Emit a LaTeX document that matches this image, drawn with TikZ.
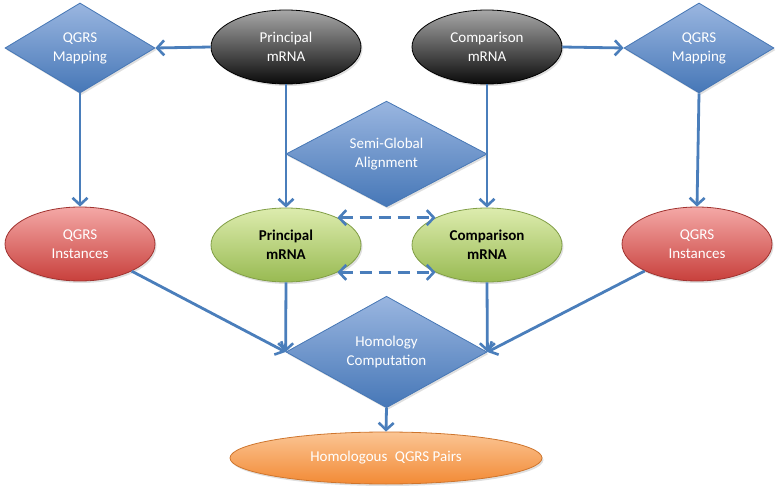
\documentclass[tikz,border=0pt]{standalone}
\usepackage{fontspec}
\setmainfont{Carlito}
\usetikzlibrary{shapes.geometric,arrows.meta,shadows}
\definecolor{arr}{HTML}{4A7EBB}
\definecolor{dtop}{HTML}{9AB6E0}
\definecolor{dbot}{HTML}{4677B7}
\definecolor{dline}{HTML}{4677B5}
\definecolor{ktop}{HTML}{A8A8A8}
\definecolor{kbot}{HTML}{0A0A0A}
\definecolor{rtop}{HTML}{F4A8A6}
\definecolor{rbot}{HTML}{C8403C}
\definecolor{gtop}{HTML}{DDECAE}
\definecolor{gbot}{HTML}{98BA52}
\definecolor{otop}{HTML}{FBC594}
\definecolor{obot}{HTML}{F28A35}
\tikzset{
  lbl/.style={font=\fontsize{15}{19}\selectfont, align=center},
  dia/.style={diamond, lbl, text=white, inner sep=0pt, top color=dtop, bottom color=dbot, draw=dline, line width=0.8pt, drop shadow={opacity=0.25,shadow xshift=1.5pt,shadow yshift=-2pt}},
  ell/.style={ellipse, lbl, inner sep=0pt, minimum width=150pt, minimum height=74pt, line width=0.8pt, drop shadow={opacity=0.25,shadow xshift=1.5pt,shadow yshift=-2pt}},
  blk/.style={ell, text=white, top color=ktop, bottom color=kbot, draw=black},
  red/.style={ell, text=white, top color=rtop, bottom color=rbot, draw=rbot!80!black},
  grn/.style={ell, text=black, font=\fontsize{15}{19}\selectfont\bfseries, top color=gtop, bottom color=gbot, draw=gbot!85!black},
  org/.style={ell, text=white, top color=otop, bottom color=obot, draw=obot!85!black, minimum width=312pt, minimum height=52pt},
  con/.style={draw=arr, line width=2.8pt, -{Straight Barb[length=7pt,width=15pt,line width=2.6pt]}},
  dcon/.style={con, {Straight Barb[length=7pt,width=15pt,line width=2.6pt]}-{Straight Barb[length=7pt,width=15pt,line width=2.6pt]}, dash pattern=on 12pt off 7pt}
}
\begin{document}
\begin{tikzpicture}[x=1pt,y=-1pt]
\useasboundingbox (0,0) rectangle (777,492);
\node[dia, minimum width=150pt, minimum height=90pt] (qml) at (80,48) {QGRS\\Mapping};
\node[dia, minimum width=150pt, minimum height=90pt] (qmr) at (699,48) {QGRS\\Mapping};
\node[blk] (pm) at (286,47) {Principal\\mRNA};
\node[blk] (cm) at (487,47) {Comparison\\mRNA};
\node[dia, minimum width=201pt, minimum height=85pt] (sga) at (386.5,154) {Semi-Global\\Alignment};
\node[red] (qil) at (80,244) {QGRS\\Instances};
\node[red] (qir) at (697,244) {QGRS\\Instances};
\node[grn] (pg) at (286,245) {Principal\\mRNA};
\node[grn] (cg) at (487,245) {Comparison\\mRNA};
\node[dia, minimum width=201pt, minimum height=91pt] (hc) at (386.5,352) {Homology\\Computation};
\node[org] (hp) at (386,458) {Homologous\hspace{0.5em}QGRS Pairs};

\draw[con] (pm.west) -- (qml.east);
\draw[con] (cm.east) -- (qmr.west);
\draw[con] (qml.south) -- (qil.north);
\draw[con] (qmr.south) -- (qir.north);
\draw[con] (pm.south) -- (pg.north);
\draw[con] (cm.south) -- (cg.north);
\draw[dcon] (pg.28) -- (cg.152);
\draw[dcon] (pg.-28) -- (cg.208);
\draw[con] (qil) -- (hc.west);
\draw[con] (pg.south) -- (hc.west);
\draw[con] (cg.south) -- (hc.east);
\draw[con] (qir) -- (hc.east);
\draw[con] (hc.south) -- (hp.north);
\end{tikzpicture}
\end{document}
